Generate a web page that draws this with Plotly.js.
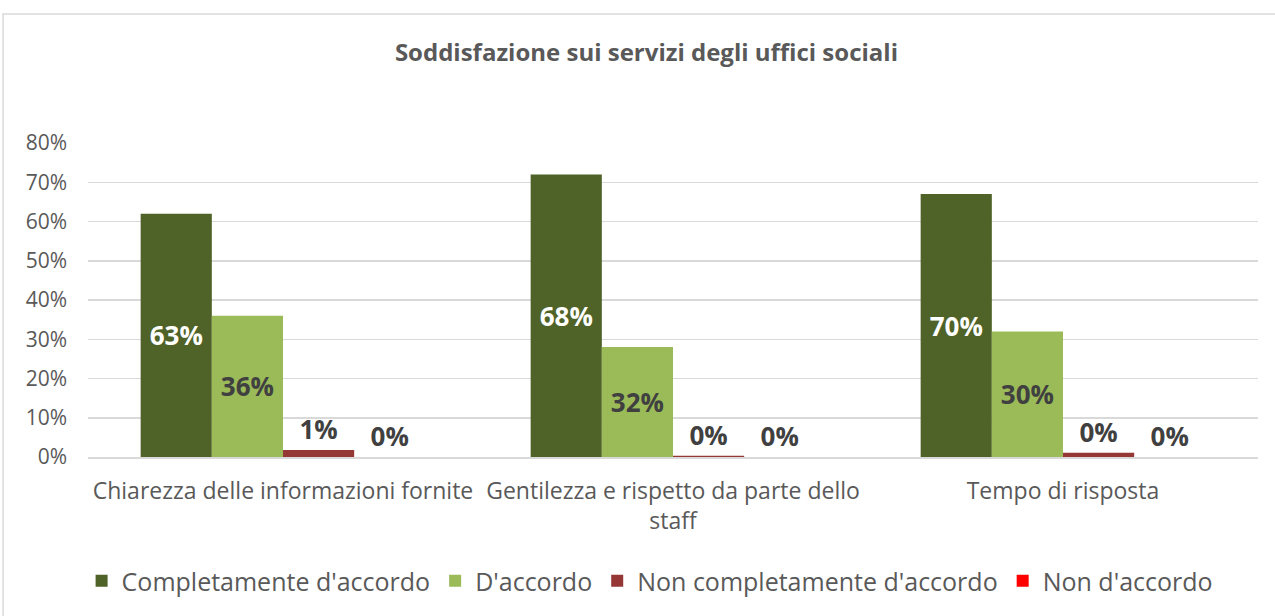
<!DOCTYPE html>
<html>
<head>
<meta charset="utf-8">
<script src="https://cdn.plot.ly/plotly-3.0.1.min.js"></script>
<style>html,body{margin:0;padding:0;background:#fff;}#chart{width:1275px;height:616px;}</style>
</head>
<body>
<div id="chart"></div>
<script>
var categories = ["Chiarezza delle informazioni fornite", "Gentilezza e rispetto da parte dello<br>staff", "Tempo di risposta"];
var seriesNames = ["Completamente d'accordo", "D'accordo", "Non completamente d'accordo", "Non d'accordo"];
var completamente = [0.62, 0.72, 0.67];
var daccordo = [0.36, 0.28, 0.32];
var nonCompletamente = [0.018, 0.003, 0.011];
var nonDaccordo = [0, 0, 0];
var labelsCompletamente = ["63%", "68%", "70%"];
var labelsDaccordo = ["36%", "32%", "30%"];
var labelsNonCompletamente = ["1%", "0%", "0%"];
var labelsNonDaccordo = ["0%", "0%", "0%"];
var colors = ["#4f6228", "#9bbb59", "#953735", "#ff0000"];

var font = "'Open Sans', 'Noto Sans', sans-serif";
function tr(i, y, txt, pos, tcol) {
  return {
    type: 'bar', name: seriesNames[i], x: categories, y: y,
    marker: {color: colors[i]},
    text: txt, textposition: pos, insidetextanchor: 'middle',
    textfont: {family: font, size: 26, color: tcol, weight: 'bold'},
    outsidetextfont: {family: font, size: 26, color: '#404040', weight: 'bold'},
    insidetextfont: {family: font, size: 26, color: tcol, weight: 'bold'},
    cliponaxis: false, constraintext: 'none', hoverinfo: 'none'
  };
}
var data = [
  tr(0, completamente, labelsCompletamente, 'inside', '#ffffff'),
  tr(1, daccordo, labelsDaccordo, 'inside', '#404040'),
  tr(2, nonCompletamente, labelsNonCompletamente, 'outside', '#404040'),
  tr(3, nonDaccordo, labelsNonDaccordo, 'outside', '#404040')
];
var layout = {
  width: 1275, height: 616,
  margin: {l: 88, r: 17, t: 143, b: 159},
  paper_bgcolor: '#ffffff', plot_bgcolor: '#ffffff',
  barmode: 'group', bargap: 0.27, bargroupgap: 0,
  title: {text: '<b>Soddisfazione sui servizi degli uffici sociali</b>', font: {family: font, size: 24, color: '#595959'},
          x: 0.507, xref: 'container', y: 0.914, yref: 'container', yanchor: 'middle'},
  xaxis: {tickfont: {family: font, size: 23, color: '#595959'}, showline: true, linecolor: '#d9d9d9', linewidth: 2,
          ticks: '', showgrid: false, automargin: false, ticklabelstandoff: 12},
  yaxis: {range: [0, 0.8], dtick: 0.1, tickformat: '.0%', tickfont: {family: font, size: 21, color: '#595959'},
          gridcolor: '#d9d9d9', gridwidth: 1.5, zeroline: false, ticks: '', ticklen: 0, automargin: false,
          ticklabelstandoff: 20},
  showlegend: true,
  legend: {orientation: 'h', x: 0.48, xanchor: 'center', y: -0.395, yanchor: 'middle',
           font: {family: font, size: 25, color: '#595959'}, itemwidth: 30, traceorder: 'normal'},
  shapes: [{type: 'rect', xref: 'paper', yref: 'paper', x0: -0.0726, x1: 1.03, y0: -0.55, y1: 1.411,
            line: {color: '#d9d9d9', width: 1.5}, fillcolor: 'rgba(0,0,0,0)', layer: 'below'}],
  font: {family: font}
};
Plotly.newPlot('chart', data, layout, {staticPlot: true, displayModeBar: false});
</script>
</body>
</html>
